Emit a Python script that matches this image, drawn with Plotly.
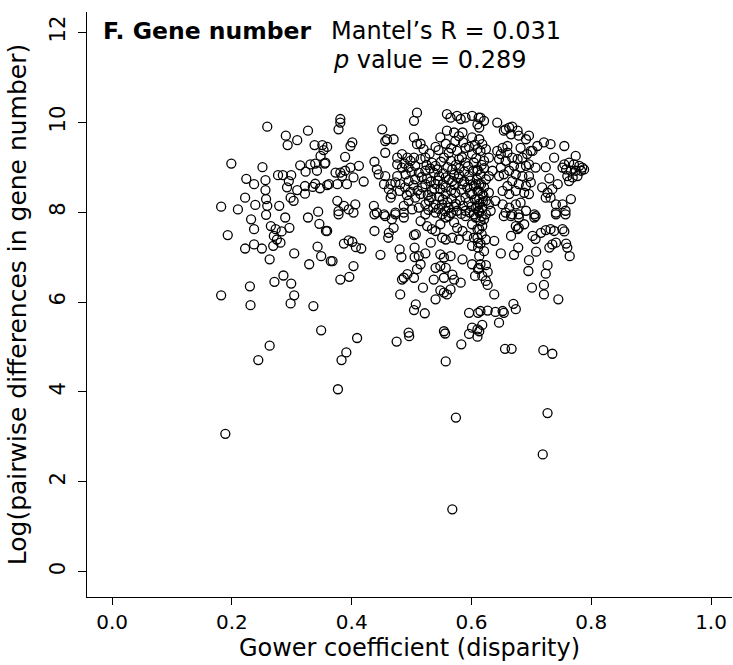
import plotly.graph_objects as go

# (Gower coefficient, log pairwise difference) pairs, by region
pts_left = [
    (0.259,9.90),(0.290,9.70),(0.309,9.60),(0.327,9.81),(0.293,9.49),(0.338,9.49),(0.351,9.49),(0.353,9.38),
    (0.348,9.25),(0.199,9.08),(0.251,9.00),(0.314,9.04),(0.331,9.06),(0.339,9.08),(0.355,9.08),(0.323,8.90),
    (0.342,8.92),(0.277,8.82),(0.285,8.82),(0.299,8.82),(0.224,8.74),(0.237,8.62),(0.256,8.71),(0.295,8.69),
    (0.292,8.55),(0.309,8.49),(0.322,8.58),(0.335,8.56),(0.339,8.63),(0.347,8.53),(0.359,8.60),(0.256,8.49),
    (0.257,8.29),(0.222,8.32),(0.239,8.16),(0.259,8.14),(0.279,8.14),(0.298,8.32),(0.303,8.25),(0.322,8.41),
    (0.182,8.12),(0.210,8.06),(0.232,7.84),(0.257,7.94),(0.289,7.88),(0.327,7.88),(0.344,8.01),
    (0.237,7.62),(0.193,7.49),(0.265,7.69),(0.273,7.62),(0.283,7.57),(0.296,7.65),(0.346,7.74),(0.357,7.58),
    (0.270,7.47),(0.275,7.39),(0.281,7.32),(0.237,7.28),(0.222,7.19),(0.250,7.19),(0.269,7.25),(0.263,6.95),
    (0.304,7.08),(0.343,7.23),(0.349,7.02),(0.329,6.84),(0.365,6.91),(0.286,6.59),(0.271,6.45),(0.299,6.41),
    (0.230,6.35),(0.182,6.15),(0.304,6.15),(0.298,5.97),(0.231,5.93),(0.336,5.91),(0.349,5.37),
]

pts_low = [
    (0.263,5.03),(0.244,4.71),(0.409,5.20),(0.391,4.88),(0.383,4.71),(0.377,4.06),(0.475,5.12),(0.496,5.24),
    (0.556,5.30),(0.583,5.06),(0.596,5.29),(0.610,5.23),(0.557,4.68),(0.574,3.43),(0.189,3.07),(0.568,1.39),
    (0.613,5.35),(0.656,4.96),(0.667,4.96),(0.720,4.93),(0.735,4.85),(0.727,3.53),(0.719,2.61),
]

pts_mid = [
    (0.378,7.95),(0.359,7.58),(0.438,7.95),(0.456,7.91),(0.467,7.84),(0.473,7.95),(0.487,7.88),(0.470,7.65),
    (0.462,7.54),(0.461,7.43),(0.438,7.58),(0.387,7.30),(0.395,7.37),(0.401,7.34),(0.407,7.22),(0.416,7.19),
    (0.368,6.91),(0.403,6.80),(0.381,6.50),(0.396,6.56),(0.448,7.05),(0.480,7.17),(0.483,7.00),(0.505,7.21),
    (0.505,7.00),(0.512,7.02),(0.523,7.08),(0.515,6.84),(0.509,6.73),(0.493,6.62),(0.487,6.54),(0.484,6.50),
    (0.504,6.54),(0.481,6.17),(0.519,6.32),(0.507,5.95),(0.504,5.82),(0.522,5.75),(0.515,7.80),(0.526,7.69),
    (0.534,7.62),(0.540,7.58),(0.548,7.73),(0.557,7.88),(0.562,7.91),(0.571,7.77),(0.576,7.65),(0.585,7.58),
    (0.590,7.91),(0.601,7.73),(0.610,7.62),(0.507,7.51),(0.504,7.49),(0.532,7.32),(0.551,7.43),(0.557,7.39),
    (0.568,7.43),(0.579,7.39),(0.593,7.47),(0.604,7.43),(0.601,7.25),(0.611,7.32),(0.548,7.06),(0.554,6.99),
    (0.565,7.02),(0.548,6.80),(0.540,6.76),(0.557,6.76),(0.568,6.61),(0.571,6.50),(0.582,6.43),(0.554,6.54),
    (0.537,6.50),(0.548,6.26),(0.554,6.21),(0.559,6.17),(0.565,6.28),(0.540,6.06),(0.585,6.95),(0.601,6.84),
    (0.612,6.76),(0.606,6.58),(0.596,5.76),(0.611,5.76),(0.495,5.32),(0.554,5.35),(0.601,5.43),
]

pts_right_mid = [
    (0.615,7.80),(0.621,7.84),(0.618,7.69),(0.613,7.62),(0.617,7.51),(0.610,7.43),(0.624,7.39),(0.615,7.30),
    (0.611,7.21),(0.621,7.13),(0.613,7.02),(0.615,6.84),(0.624,6.82),(0.611,6.73),(0.627,6.67),(0.618,6.58),
    (0.624,6.47),(0.627,6.38),(0.638,6.17),(0.615,5.80),(0.627,5.81),(0.640,5.78),(0.652,5.80),(0.654,5.76),
    (0.670,5.96),(0.674,5.84),(0.646,5.54),(0.618,5.49),(0.610,5.39),(0.654,7.91),(0.666,7.91),(0.679,7.88),
    (0.705,7.88),(0.741,7.95),(0.757,7.95),(0.674,7.69),(0.679,7.65),(0.688,7.73),(0.677,7.62),(0.666,7.47),
    (0.638,7.36),(0.702,7.47),(0.707,7.40),(0.716,7.54),(0.724,7.60),(0.732,7.62),(0.738,7.58),(0.752,7.62),
    (0.755,7.57),(0.741,7.32),(0.735,7.28),(0.730,7.21),(0.758,7.30),(0.760,7.21),(0.764,7.02),(0.649,7.08),
    (0.671,7.05),(0.678,7.21),(0.696,6.93),(0.708,7.12),(0.727,6.82),(0.695,6.69),(0.724,6.63),(0.701,6.32),
    (0.721,6.38),(0.721,6.17),(0.745,6.06),
]

pts_top_mid = [
    (0.381,10.07),(0.381,9.99),(0.378,9.84),(0.509,10.21),(0.504,10.03),(0.451,9.84),(0.459,9.62),(0.470,9.62),
    (0.456,9.58),(0.504,9.66),(0.515,9.52),(0.509,9.51),(0.401,9.55),(0.398,9.47),(0.456,9.32),(0.389,9.23),
    (0.359,9.45),(0.356,9.10),(0.412,9.03),(0.398,8.99),(0.389,8.92),(0.381,8.88),(0.373,8.88),(0.384,8.80),
    (0.403,8.77),(0.376,8.62),(0.392,8.62),(0.420,8.68),(0.362,8.62),(0.438,9.12),(0.442,8.95),(0.445,8.84),
    (0.456,8.80),(0.454,8.62),(0.465,8.62),(0.462,8.51),(0.467,8.40),(0.465,8.32),(0.376,8.25),(0.387,8.14),
    (0.395,8.06),(0.378,8.02),(0.406,8.17),(0.403,7.99),(0.437,8.14),(0.442,7.99),(0.454,7.95),(0.473,7.99),
    (0.487,7.99),(0.476,9.21),(0.484,9.29),(0.493,9.21),(0.498,9.14),(0.504,9.21),(0.515,9.18),(0.523,9.21),
    (0.476,9.06),(0.484,8.99),(0.495,8.99),(0.506,9.03),(0.490,8.84),(0.476,8.80),(0.473,8.66),(0.481,8.62),
    (0.495,8.69),(0.506,8.73),(0.512,8.88),(0.523,8.92),(0.523,8.62),(0.515,8.40),(0.506,8.32),(0.495,8.25),
    (0.487,8.14),(0.501,8.06),(0.512,8.10),(0.523,8.17),(0.548,9.66),(0.559,9.81),(0.571,9.77),(0.579,9.69),
    (0.585,9.77),(0.601,9.66),(0.590,9.43),(0.573,9.58),(0.576,9.36),(0.562,9.32),(0.554,9.21),(0.540,9.03),
    (0.534,9.10),(0.559,10.18),(0.565,10.10),(0.576,10.14),(0.582,10.07),(0.590,10.10),(0.601,10.14),(0.612,10.10),
    (0.601,9.29),(0.604,9.10),(0.610,8.95),(0.590,9.10),(0.579,9.18),(0.568,8.95),(0.579,8.84),(0.596,8.80),
    (0.607,8.62),(0.585,8.62),(0.568,8.69),(0.557,8.77),(0.546,8.80),(0.540,8.62),(0.534,8.47),(0.548,8.51),
    (0.557,8.40),(0.573,8.43),(0.590,8.32),(0.601,8.40),(0.612,8.47),(0.529,8.25),(0.540,8.17),(0.551,8.17),
    (0.562,8.10),(0.576,8.03),(0.590,8.03),(0.604,7.95),(0.612,8.03),(0.540,7.99),(0.523,7.95),(0.551,7.95),
]

pts_top_right = [
    (0.615,10.10),(0.621,10.03),(0.610,9.95),(0.613,9.88),(0.643,9.99),(0.657,9.84),(0.663,9.88),(0.668,9.90),
    (0.677,9.81),(0.679,9.70),(0.666,9.73),(0.654,9.81),(0.696,9.70),(0.691,9.62),(0.682,9.43),(0.702,9.36),
    (0.710,9.47),(0.721,9.55),(0.732,9.51),(0.755,9.47),(0.738,9.21),(0.774,9.25),(0.613,9.62),(0.618,9.51),
    (0.610,9.40),(0.615,9.36),(0.624,9.40),(0.629,9.21),(0.621,9.14),(0.643,9.36),(0.652,9.43),(0.660,9.47),
    (0.649,9.29),(0.660,9.32),(0.668,9.21),(0.677,9.18),(0.685,9.21),(0.693,9.29),(0.699,9.36),(0.646,9.18),
    (0.657,9.14),(0.671,9.03),(0.682,8.99),(0.691,9.03),(0.696,9.06),(0.707,8.99),(0.724,9.00),(0.649,8.99),
    (0.663,8.92),(0.654,8.84),(0.646,8.80),(0.674,8.84),(0.685,8.80),(0.696,8.80),(0.635,8.92),(0.629,8.80),
    (0.624,8.73),(0.615,8.84),(0.610,8.92),(0.755,9.06),(0.763,9.10),(0.771,9.06),(0.780,9.03),(0.785,8.99),
    (0.758,8.95),(0.766,8.92),(0.774,8.92),(0.783,8.92),(0.760,8.80),(0.769,8.77),(0.777,8.80),(0.763,8.69),
    (0.752,8.99),(0.788,8.95),(0.730,8.75),(0.744,8.62),(0.735,8.51),(0.727,8.43),(0.724,8.32),(0.732,8.32),
    (0.741,8.17),(0.752,8.17),(0.741,7.99),(0.757,8.03),(0.766,8.29),(0.718,8.55),(0.699,8.66),(0.691,8.58),
    (0.679,8.62),(0.668,8.69),(0.660,8.58),(0.652,8.47),(0.674,8.47),(0.688,8.43),(0.696,8.40),(0.663,8.40),
    (0.640,8.25),(0.652,8.17),(0.663,8.10),(0.674,8.17),(0.682,8.21),(0.657,7.99),(0.668,7.95),(0.679,7.95),
    (0.691,8.03),(0.705,7.95),(0.707,7.91),(0.613,8.62),(0.621,8.55),(0.610,8.47),(0.618,8.40),(0.629,8.43),
    (0.613,8.29),(0.624,8.25),(0.610,8.14),(0.618,8.10),(0.629,8.17),(0.613,7.99),(0.624,7.95),(0.632,8.03),
    (0.607,7.88),
]

# densely overlapping core, estimated from the dark blob of rings
pts_core = [
    (0.525,9.05),(0.531,8.97),(0.537,8.88),(0.543,8.95),(0.549,9.12),(0.553,8.86),(0.560,9.00),(0.566,9.14),
    (0.571,8.83),(0.574,9.05),(0.580,8.98),(0.584,9.22),(0.588,8.90),(0.594,9.02),(0.598,8.70),(0.603,8.92),
    (0.608,9.20),(0.617,9.05),(0.621,8.98),(0.526,8.75),(0.532,8.68),(0.538,8.52),(0.544,8.70),(0.552,8.62),
    (0.557,8.55),(0.562,8.72),(0.566,8.48),(0.572,8.60),(0.578,8.75),(0.583,8.50),(0.588,8.68),(0.593,8.55),
    (0.598,8.42),(0.604,8.58),(0.609,8.72),(0.616,8.62),(0.620,8.36),(0.527,8.38),(0.533,8.33),(0.546,8.34),
    (0.552,8.28),(0.560,8.22),(0.567,8.30),(0.574,8.18),(0.581,8.26),(0.586,8.14),(0.595,8.22),(0.600,8.12),
    (0.606,8.28),(0.613,8.19),(0.619,8.24),(0.528,8.05),(0.536,8.10),(0.545,8.07),(0.556,8.02),(0.566,7.98),
    (0.571,8.12),(0.583,7.96),(0.597,7.99),(0.607,8.09),(0.617,7.91),(0.498,8.45),(0.489,8.55),(0.503,8.60),
    (0.480,8.47),(0.492,8.38),(0.518,8.55),(0.510,8.48),(0.517,8.78),(0.500,8.90),(0.488,9.08),(0.530,9.30),
    (0.545,9.38),(0.557,9.52),(0.540,9.45),(0.520,9.40),(0.566,9.42),(0.586,9.55),(0.596,9.45),(0.606,9.50),
]

all_pts = pts_left + pts_low + pts_mid + pts_right_mid + pts_top_mid + pts_top_right + pts_core
gower = [p[0] for p in all_pts]
logdiff = [p[1] for p in all_pts]

x_ticks = [0.0, 0.2, 0.4, 0.6, 0.8, 1.0]
x_ticktext = ["0.0", "0.2", "0.4", "0.6", "0.8", "1.0"]
y_ticks = [0, 2, 4, 6, 8, 10, 12]

FONT = "DejaVu Sans"

fig = go.Figure(go.Scatter(
    x=gower, y=logdiff, mode="markers",
    marker=dict(symbol="circle-open", size=9, color="black", line=dict(width=1.3, color="black")),
    showlegend=False, hoverinfo="skip",
))

fig.update_layout(
    width=733, height=665,
    margin=dict(l=87, r=1, t=12, b=68, autoexpand=False),
    paper_bgcolor="white", plot_bgcolor="white",
    font=dict(family=FONT, color="black"),
    xaxis=dict(
        range=[-0.042, 1.035], tickvals=x_ticks, ticktext=x_ticktext,
        showline=True, linecolor="black", linewidth=1.3, mirror=False,
        ticks="outside", ticklen=7, tickwidth=1.3, tickcolor="black",
        showgrid=False, zeroline=False, tickfont=dict(size=20, family=FONT),
        title=dict(text="Gower coefficient (disparity)", font=dict(size=24, family=FONT), standoff=3),
        automargin=False,
    ),
    yaxis=dict(
        range=[-0.56, 12.45], tickvals=y_ticks, tickangle=-90,
        showline=True, linecolor="black", linewidth=1.3, mirror=False,
        ticks="outside", ticklen=8, tickwidth=1.3, tickcolor="black",
        showgrid=False, zeroline=False, tickfont=dict(size=21, family=FONT),
        ticklabelstandoff=4,
        title=dict(text="Log(pairwise differences in gene number)", font=dict(size=25, family=FONT), standoff=12),
        automargin=False,
    ),
    annotations=[
        dict(x=-0.019, y=12.03, xref="x", yref="y", xanchor="left", yanchor="middle",
             text="<b>F. Gene number</b>", showarrow=False, font=dict(size=23.5, family=FONT)),
        dict(x=0.362, y=12.03, xref="x", yref="y", xanchor="left", yanchor="middle",
             text="Mantel\u2019s R = 0.031", showarrow=False, font=dict(size=24, family=FONT)),
        dict(x=0.365, y=11.38, xref="x", yref="y", xanchor="left", yanchor="middle",
             text="<i>p</i> value = 0.289", showarrow=False, font=dict(size=24, family=FONT)),
    ],
)

fig.write_html("out.html")
